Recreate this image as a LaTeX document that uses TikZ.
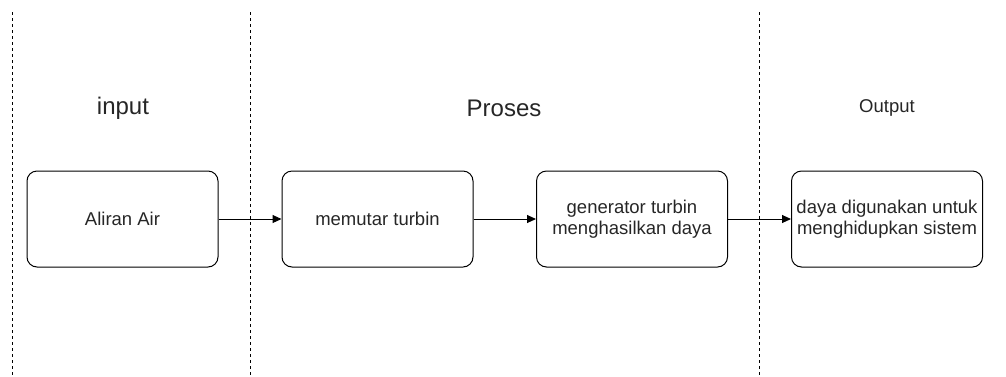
\documentclass[tikz,border=0pt]{standalone}
\usepackage{fontspec}
\setmainfont{Liberation Sans}
\usetikzlibrary{arrows.meta}
\begin{document}
\begin{tikzpicture}[x=1pt,y=-1pt,
  procbox/.style={draw=black,line width=1pt,rounded corners=10pt,minimum width=191pt,minimum height=96pt,inner sep=0pt,align=center,font=\fontsize{18.5}{20.5}\selectfont,text=black!85},
  sep/.style={draw=black,line width=1pt,dash pattern=on 3pt off 3pt},
  conn/.style={draw=black,line width=1pt,-{Triangle[length=9pt,width=8pt]}},
  title/.style={text=black!85}]
\useasboundingbox (0,0) rectangle (1006,376);
\coordinate (s1t) at (12,12); \coordinate (s1b) at (12,376);
\coordinate (s2t) at (250,12); \coordinate (s2b) at (250,376);
\coordinate (s3t) at (759,12); \coordinate (s3b) at (759,376);
\draw[sep] (s1t) -- (s1b);
\draw[sep] (s2t) -- (s2b);
\draw[sep] (s3t) -- (s3b);
\node[title,font=\fontsize{24}{28}\selectfont] (tin) at (123,108) {input};
\node[title,font=\fontsize{24}{28}\selectfont] (tpr) at (504,108) {Proses};
\node[title,font=\fontsize{18.5}{21}\selectfont] (tout) at (887,108) {Output};
\node[procbox] (a) at (122.5,219) {Aliran Air};
\node[procbox] (b) at (377.5,219) {memutar turbin};
\node[procbox] (c) at (632,219) {generator turbin\\menghasilkan daya};
\node[procbox] (d) at (887,219) {daya digunakan untuk\\menghidupkan sistem};
\draw[conn] (a) -- (b);
\draw[conn] (b) -- (c);
\draw[conn] (c) -- (d);
\end{tikzpicture}
\end{document}
